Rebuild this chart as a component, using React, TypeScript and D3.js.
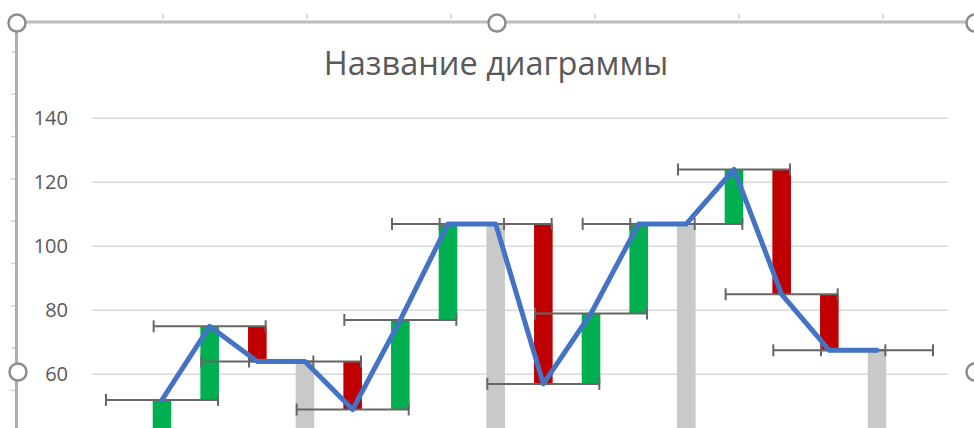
import React from "react";
import * as d3 from "d3";

// ---- data ----
const categories = ["0", "1", "2", "3", "4", "5", "6", "7", "8", "9", "10", "11", "12", "13", "14", "15", "16", "17"];
// kind of each step: total (grey), up (green), down (red), or empty
const kinds = ["total", "up", "up", "down", "total", "down", "up", "up", "total", "down", "up", "up", "total", "up", "down", "down", "total", ""];
// cumulative level after each step
const levels: (number | null)[] = [40, 52, 75, 64, 64, 49, 77, 107, 107, 57, 79, 107, 107, 124, 85, 67.5, 67.5, null];
// categories that carry a point on the blue line (with its horizontal error bar)
const lineCats = ["1", "2", "3", "4", "5", "6", "7", "8", "9", "10", "11", "12", "13", "14", "15", "16"];
const errorAmount = 1.175; // horizontal error, in categories
const yTicks = [60, 80, 100, 120, 140];
const title = "Название диаграммы";

const W = 974;
const H = 428;

const colors: Record<string, string> = {
  total: "#C9C9C9",
  up: "#00B050",
  down: "#C00000",
};

export default function App() {
  const x = d3.scaleBand<string>().domain(categories).range([90.5, 948.5]).padding(0);
  const y = d3.scaleLinear().domain([0, 140]).range([566.3, 118.3]);
  const bw = x.bandwidth();
  const barW = bw * 0.39;
  const cx = (c: string) => (x(c) as number) + bw / 2;

  const bars = categories
    .map((c, i) => {
      const k = kinds[i];
      const v = levels[i];
      if (!k || v == null) return null;
      let lo: number, hi: number;
      if (k === "total") {
        lo = 0;
        hi = v;
      } else {
        const prev = levels[i - 1] as number;
        lo = Math.min(prev, v);
        hi = Math.max(prev, v);
      }
      return { c, k, lo, hi };
    })
    .filter(Boolean) as { c: string; k: string; lo: number; hi: number }[];

  const pts = lineCats.map((c) => {
    const i = categories.indexOf(c);
    return { c, v: levels[i] as number };
  });

  const lineGen = d3
    .line<{ c: string; v: number }>()
    .x((d) => cx(d.c))
    .y((d) => y(d.v));

  const errHalf = errorAmount * bw;

  const topTicks = [163, 307, 451, 595, 739, 883];
  const leftTicks = d3.range(0, 9).map((i) => 52 + i * 42.3);

  return (
    <div style={{ position: "fixed", left: 0, top: 0, width: W, height: H, background: "#fff" }}>
      <svg width={W} height={H} style={{ display: "block" }}>
        <rect x={0} y={0} width={W} height={H} fill="#fff" />
        {/* ruler ticks */}
        {topTicks.map((t) => (
          <line key={"tt" + t} x1={t} x2={t} y1={14} y2={19} stroke="#d0d0d0" strokeWidth={1.5} />
        ))}
        {leftTicks.map((t) => (
          <line key={"lt" + t} x1={11} x2={15} y1={t} y2={t} stroke="#d0d0d0" strokeWidth={1.5} />
        ))}
        {/* frame */}
        <line x1={17} x2={W} y1={22} y2={22} stroke="#BDBDBD" strokeWidth={3} />
        <line x1={16.5} x2={16.5} y1={22} y2={H} stroke="#ADADAD" strokeWidth={3} />

        {/* title */}
        <text
          x={496}
          y={75}
          textAnchor="middle"
          fontFamily="'Open Sans', 'Noto Sans', sans-serif"
          fontSize={32.5}
          fill="#595959"
        >
          {title}
        </text>

        {/* gridlines and y labels */}
        {yTicks.map((t) => (
          <g key={"g" + t}>
            <line x1={92} x2={948} y1={y(t)} y2={y(t)} stroke="#D9D9D9" strokeWidth={1.5} />
            <text
              x={68}
              y={y(t) + 7}
              textAnchor="end"
              fontFamily="'Open Sans', 'Noto Sans', sans-serif"
              fontSize={20}
              fill="#595959"
            >
              {t}
            </text>
          </g>
        ))}

        {/* bars */}
        {bars.map((b) => (
          <rect
            key={"b" + b.c}
            x={cx(b.c) - barW / 2}
            width={barW}
            y={y(b.hi)}
            height={y(b.lo) - y(b.hi)}
            fill={colors[b.k]}
          />
        ))}

        {/* horizontal error bars */}
        {pts.map((p) => {
          const yy = y(p.v);
          const x0 = cx(p.c) - errHalf;
          const x1 = cx(p.c) + errHalf;
          return (
            <g key={"e" + p.c} stroke="#666666" strokeWidth={2}>
              <line x1={x0} x2={x1} y1={yy} y2={yy} />
              <line x1={x0} x2={x0} y1={yy - 6} y2={yy + 6} />
              <line x1={x1} x2={x1} y1={yy - 6} y2={yy + 6} />
            </g>
          );
        })}

        {/* line */}
        <path
          d={lineGen(pts) || ""}
          fill="none"
          stroke="#4472C4"
          strokeWidth={5}
          strokeLinejoin="round"
          strokeLinecap="round"
        />

        {/* selection handles */}
        {[
          [17, 23],
          [497, 23],
          [975, 23],
          [18, 372],
          [975, 372],
        ].map(([hx, hy], i) => (
          <circle key={"h" + i} cx={hx} cy={hy} r={8.5} fill="#fff" stroke="#8C8C8C" strokeWidth={2.5} />
        ))}
      </svg>
    </div>
  );
}
